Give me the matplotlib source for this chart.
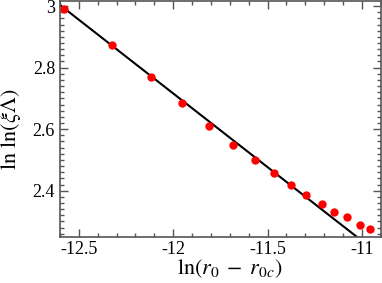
import matplotlib
matplotlib.use('Agg')
import matplotlib.pyplot as plt
import numpy as np
from matplotlib.ticker import MultipleLocator

# data
ln_dr = [-12.579, -12.325, -12.119, -11.955, -11.812, -11.685, -11.569, -11.468,
         -11.378, -11.294, -11.214, -11.146, -11.077, -11.013, -10.955]
lnln_xi = [2.990, 2.874, 2.771, 2.684, 2.610, 2.548, 2.500, 2.458,
           2.419, 2.387, 2.358, 2.332, 2.313, 2.290, 2.274]

# linear fit y = a + b x
fit_a = -3.032
fit_b = -0.479

plt.rcParams['font.family'] = ['Liberation Serif', 'DejaVu Serif']
plt.rcParams['mathtext.fontset'] = 'stix'
plt.rcParams['axes.unicode_minus'] = False

fig = plt.figure(figsize=(3.82, 2.83), dpi=100)
ax = fig.add_axes([0.157, 0.163, 0.84, 0.833])

xfit = np.array([-12.6, -10.9])
ax.plot(xfit, fit_a + fit_b * xfit, color='black', lw=1.5)
ax.plot(ln_dr, lnln_xi, 'o', color='red', ms=6, mec='none')

ax.set_xlim(-12.6, -10.9)
ax.set_ylim(2.25, 3.016)
ax.xaxis.set_major_locator(MultipleLocator(0.5))
ax.xaxis.set_minor_locator(MultipleLocator(0.1))
ax.yaxis.set_major_locator(MultipleLocator(0.2))
ax.yaxis.set_minor_locator(MultipleLocator(0.02))
ax.xaxis.set_major_formatter(matplotlib.ticker.FuncFormatter(lambda v, p: '%g' % v))
ax.yaxis.set_major_formatter(matplotlib.ticker.FuncFormatter(lambda v, p: '%g' % v))

ax.tick_params(which='both', direction='in', top=True, right=True, color='#555555', labelsize=13)
ax.tick_params(which='major', length=6, width=1)
ax.tick_params(which='minor', length=3, width=1)
ax.tick_params(axis='x', pad=3)
for s in ax.spines.values():
    s.set_color('#555555')
    s.set_linewidth(1.2)

# axis labels placed in figure coords
fig.text(0.6, 0.05, r'$\ln(r_0 \;-\; r_{0c})$', fontsize=16, ha='center', va='center')
fig.text(0.03, 0.544, r'$\ln\,\ln(\xi\Lambda)$', fontsize=16, ha='center', va='center',
         rotation=90)

fig.savefig('out.png', dpi=100)
